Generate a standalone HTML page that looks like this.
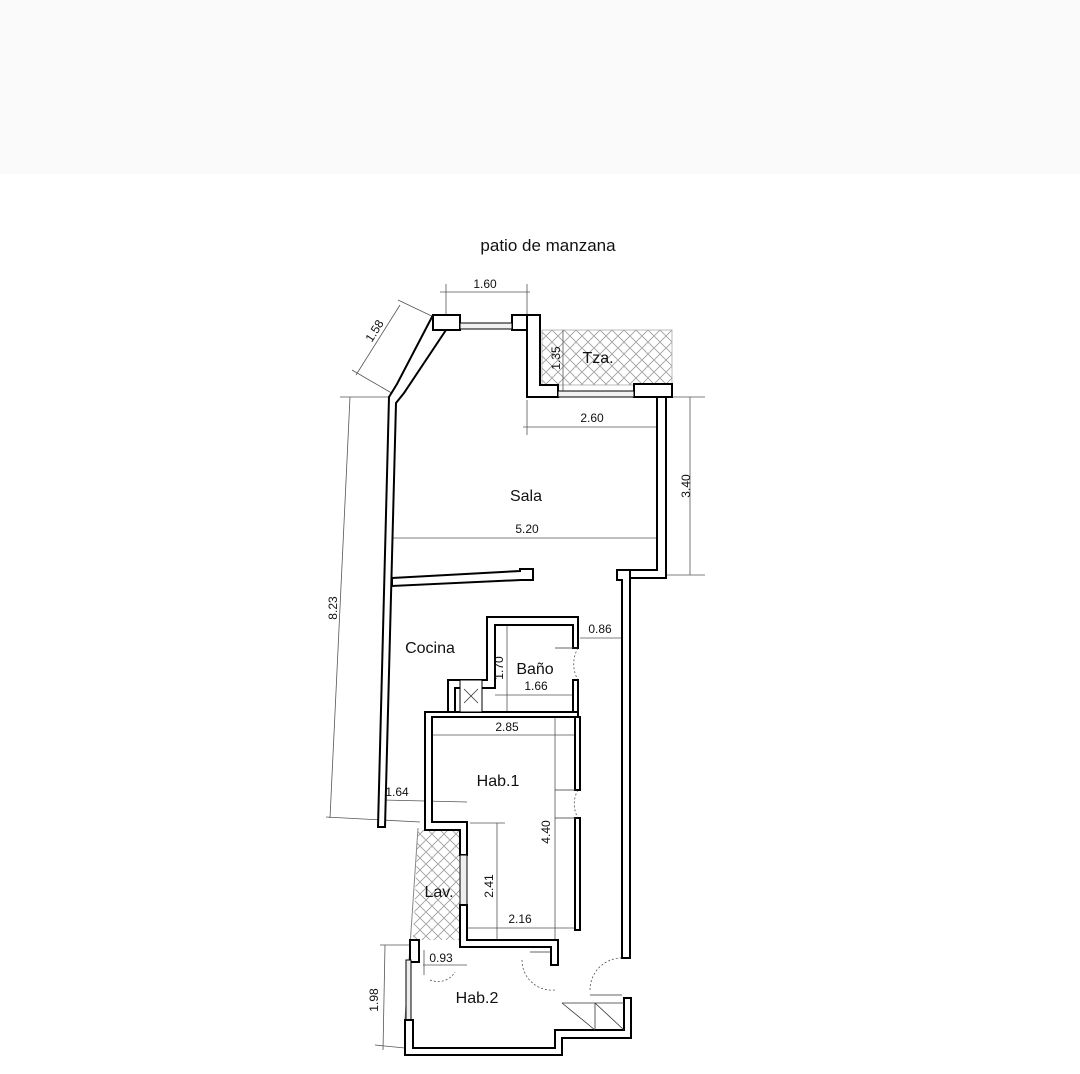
<!DOCTYPE html>
<html><head><style>
html,body{margin:0;padding:0;background:#fff;}
svg{display:block}
text{font-family:"Liberation Sans",Arial,sans-serif;fill:#111}
</style></head><body>
<svg width="1080" height="1074" viewBox="0 0 1080 1074" xmlns="http://www.w3.org/2000/svg">
<defs>
<pattern id="hb" width="12" height="12" patternUnits="userSpaceOnUse">
<rect width="12" height="12" fill="#fff"/>
<path d="M0 6 L6 0 M6 12 L12 6 M0 6 L6 12 M6 0 L12 6" stroke="#999" stroke-width="0.8" fill="none"/>
</pattern>
</defs>
<rect x="0" y="0" width="1080" height="174" fill="#fafafa"/>
<text x="548" y="251" font-size="17" text-anchor="middle">patio de manzana</text>

<rect x="542" y="330" width="130" height="55" fill="url(#hb)" stroke="#aaa" stroke-width="0.8"/>
<polygon points="418,830 460,830 460,940 413,940" fill="url(#hb)"/>
<line x1="418" y1="828" x2="405" y2="1020" stroke="#888" stroke-width="1"/>

<g stroke="#555" stroke-width="0.8" fill="none">
<line x1="440" y1="292" x2="530" y2="292"/><line x1="446" y1="284" x2="446" y2="316"/><line x1="527" y1="284" x2="527" y2="316"/>
<line x1="356" y1="375" x2="400" y2="305"/><line x1="398" y1="300" x2="440" y2="320"/><line x1="352" y1="370" x2="395" y2="395"/>
<line x1="523" y1="427" x2="663" y2="427"/><line x1="527" y1="400" x2="527" y2="435"/>
<line x1="390" y1="538" x2="660" y2="538"/>
<line x1="690" y1="397" x2="690" y2="575"/><line x1="666" y1="397" x2="705" y2="397"/><line x1="666" y1="575" x2="705" y2="575"/>
<line x1="330" y1="818" x2="350" y2="397"/><line x1="340" y1="397" x2="392" y2="397"/><line x1="326" y1="817" x2="420" y2="822"/>
<line x1="563" y1="330" x2="563" y2="397"/>
<line x1="580" y1="638" x2="628" y2="638"/>
<line x1="507" y1="623" x2="507" y2="715"/><line x1="495" y1="695" x2="578" y2="695"/>
<line x1="432" y1="735" x2="580" y2="735"/>
<line x1="555" y1="717" x2="555" y2="945"/>
<line x1="383" y1="800" x2="467" y2="802"/>
<line x1="470" y1="823" x2="505" y2="823"/><line x1="497" y1="823" x2="497" y2="945"/>
<line x1="467" y1="928" x2="580" y2="928"/>
<line x1="380" y1="945" x2="420" y2="945"/><line x1="385" y1="945" x2="383" y2="1050"/><line x1="375" y1="1045" x2="405" y2="1048"/>
<line x1="423" y1="965" x2="467" y2="965"/><line x1="424" y1="950" x2="424" y2="975"/>
</g>
<g stroke="#555" stroke-width="0.8" stroke-dasharray="2,2" fill="none">
<path d="M578 648 A32 32 0 0 0 578 680"/>
<path d="M578 790 A28 28 0 0 0 578 818"/>
<path d="M522 960 A30 30 0 0 0 555 990"/>
<path d="M590 990 A32 32 0 0 1 624 958"/>
<path d="M430 980 A20 20 0 0 0 455 972"/>
</g>

<g fill="#fff" stroke="#000" stroke-width="2" stroke-linejoin="miter">
<polygon points="433,315 446,315 446,330 404,393 396,403 385,827 378,827 389,397 397,384"/>
<rect x="433" y="315" width="27" height="15"/>
<rect x="512" y="315" width="15" height="15"/>
<polygon points="527,315 540,315 540,385 558,385 558,397 527,397"/>
<rect x="634" y="384" width="38" height="13"/>
<polygon points="657,397 666,397 666,578 630,578 630,570 657,570"/>
<polygon points="392,578 520,571 520,569 533,569 533,580 521,580 392,586"/>
<polygon points="617,570 630,570 630,958 622,958 622,580 617,580"/>
<polygon points="487,617 578,617 578,648 573,648 573,625 495,625 495,688 455,688 455,712 448,712 448,680 487,680"/>
<rect x="573" y="680" width="5" height="32"/>
<polygon points="425,712 578,712 578,717 432,717 432,822 467,822 467,855 460,855 460,830 425,830"/>
<rect x="460" y="855" width="7" height="50" fill="#eee" stroke-width="1"/>
<polygon points="460,905 467,905 467,940 558,940 558,965 551,965 551,947 460,947"/>
<rect x="575" y="717" width="5" height="73"/>
<rect x="575" y="818" width="5" height="112"/>
<rect x="410" y="940" width="9" height="22"/>
<rect x="406" y="960" width="5" height="60" fill="#eee" stroke-width="1"/>
<polygon points="405,1020 413,1020 413,1048 555,1048 555,1030 624,1030 624,998 631,998 631,1038 562,1038 562,1055 405,1055"/>
</g>
<g fill="#fff" stroke="#000" stroke-width="1">
<rect x="460" y="680" width="22" height="32"/>
<rect x="460" y="323" width="52" height="6" fill="#f2f2f2"/>
<rect x="558" y="391" width="76" height="6" fill="#f2f2f2"/>
</g>
<g stroke="#333" stroke-width="0.8">
<line x1="464" y1="689" x2="478" y2="703"/><line x1="478" y1="689" x2="464" y2="703"/>
<line x1="562" y1="1003" x2="595" y2="1030"/><line x1="595" y1="1003" x2="624" y2="1030"/>
<line x1="562" y1="1003" x2="624" y2="1003"/><line x1="595" y1="1003" x2="595" y2="1030"/>
<line x1="530" y1="952" x2="551" y2="952"/><line x1="590" y1="995" x2="622" y2="995"/>
<line x1="555" y1="648" x2="578" y2="648"/><line x1="555" y1="790" x2="578" y2="790"/><line x1="555" y1="818" x2="578" y2="818"/>
</g>

<g font-size="12">
<text x="485" y="288" text-anchor="middle">1.60</text>
<text x="378" y="333" text-anchor="middle" transform="rotate(-58 378 333)">1.58</text>
<text x="560" y="358" text-anchor="middle" transform="rotate(-90 560 358)">1.35</text>
<text x="592" y="422" text-anchor="middle">2.60</text>
<text x="527" y="533" text-anchor="middle">5.20</text>
<text x="690" y="486" text-anchor="middle" transform="rotate(-90 690 486)">3.40</text>
<text x="337" y="608" text-anchor="middle" transform="rotate(-90 337 608)">8.23</text>
<text x="600" y="633" text-anchor="middle">0.86</text>
<text x="503" y="668" text-anchor="middle" transform="rotate(-90 503 668)">1.70</text>
<text x="536" y="690" text-anchor="middle">1.66</text>
<text x="507" y="731" text-anchor="middle">2.85</text>
<text x="550" y="832" text-anchor="middle" transform="rotate(-90 550 832)">4.40</text>
<text x="397" y="796" text-anchor="middle">1.64</text>
<text x="493" y="886" text-anchor="middle" transform="rotate(-90 493 886)">2.41</text>
<text x="520" y="923" text-anchor="middle">2.16</text>
<text x="441" y="962" text-anchor="middle">0.93</text>
<text x="378" y="1000" text-anchor="middle" transform="rotate(-90 378 1000)">1.98</text>
</g>
<g font-size="16">
<text x="598" y="363" text-anchor="middle">Tza.</text>
<text x="526" y="501" text-anchor="middle">Sala</text>
<text x="430" y="653" text-anchor="middle">Cocina</text>
<text x="535" y="674" text-anchor="middle">Baño</text>
<text x="498" y="786" text-anchor="middle">Hab.1</text>
<text x="439" y="897" text-anchor="middle">Lav.</text>
<text x="477" y="1003" text-anchor="middle">Hab.2</text>
</g>
</svg>
</body></html>
